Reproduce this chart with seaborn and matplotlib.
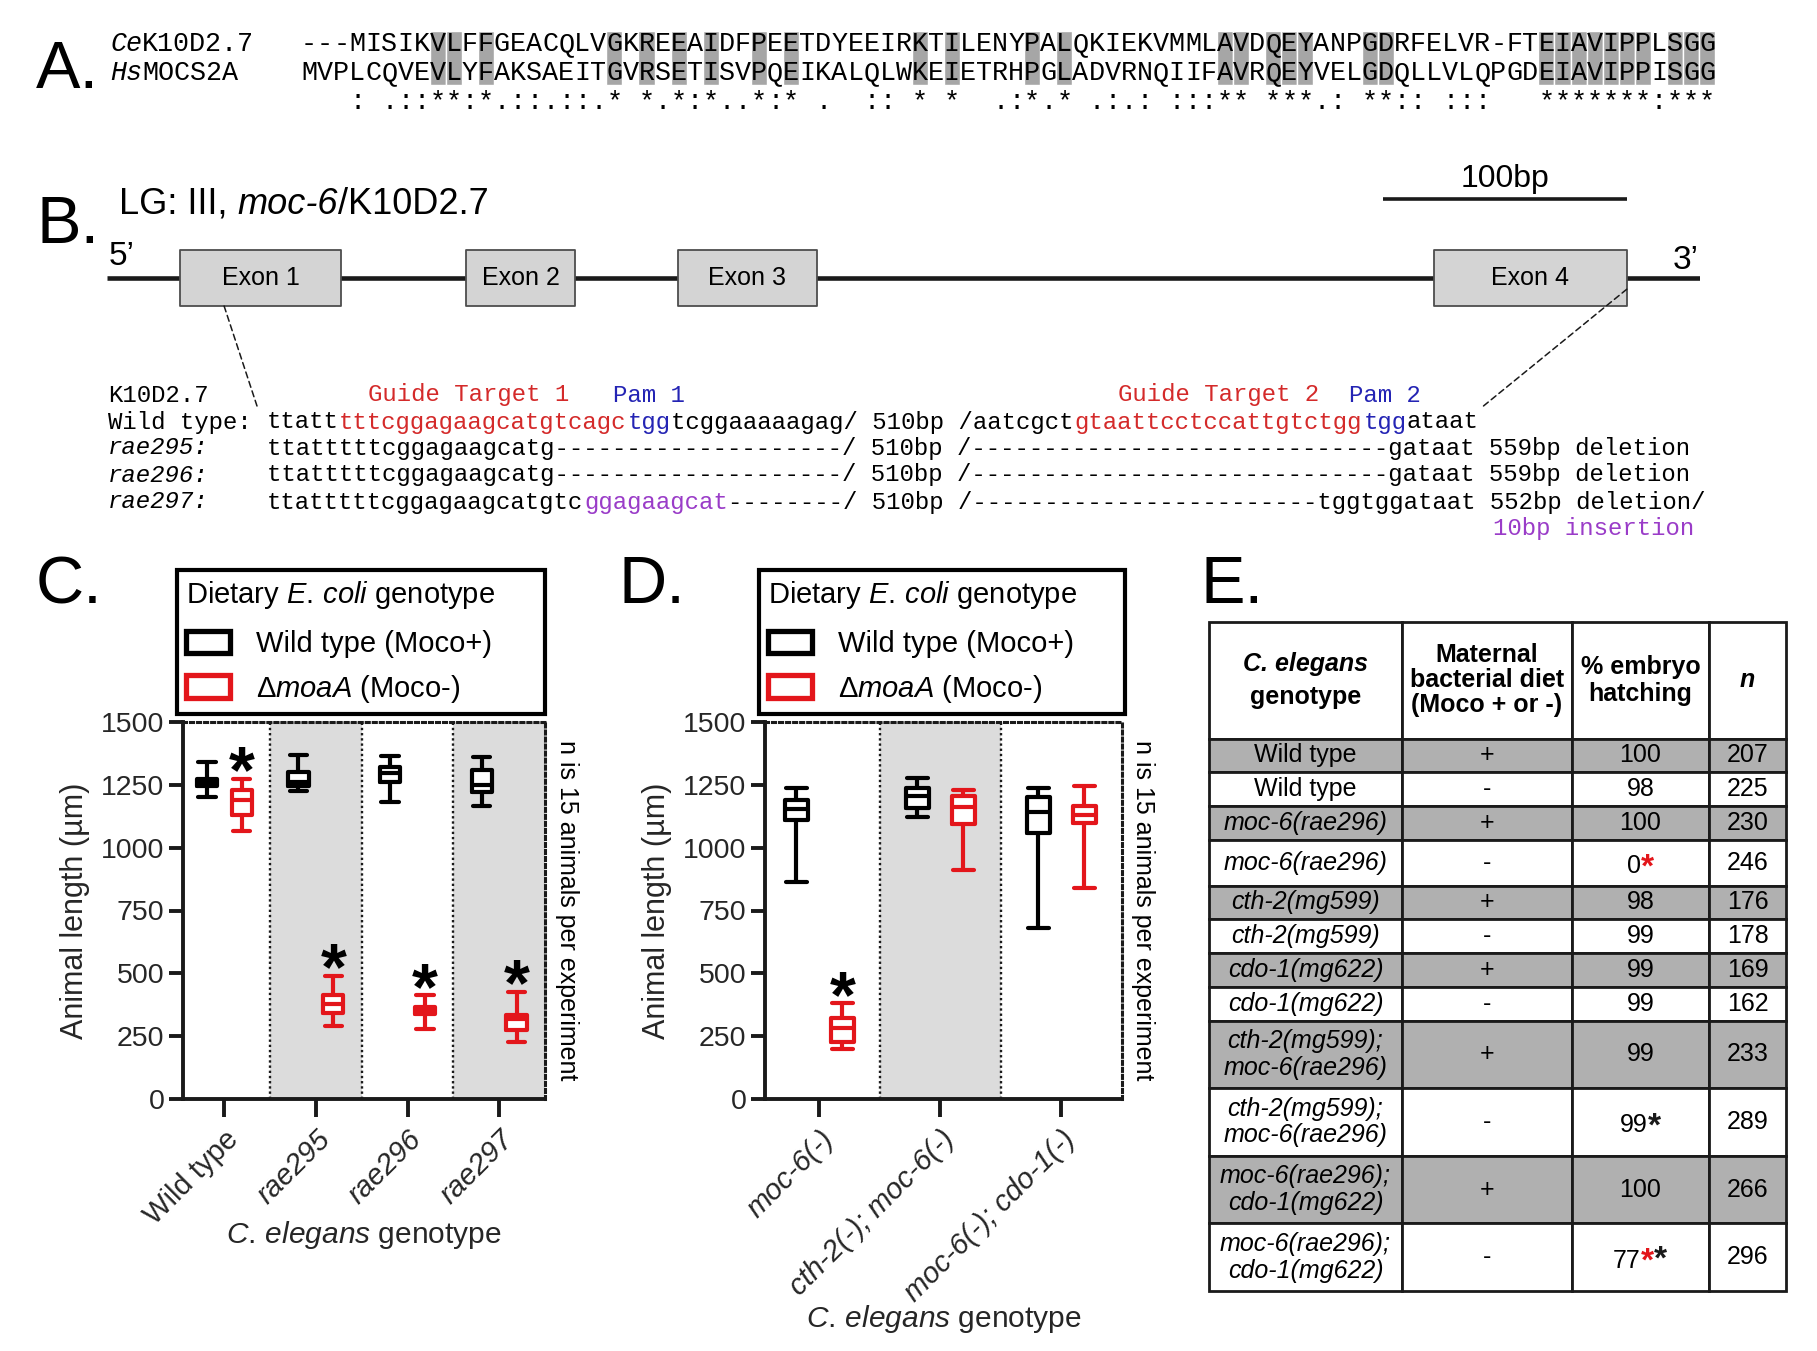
import numpy as np
import pandas as pd
import matplotlib
matplotlib.use("Agg")
import matplotlib.pyplot as plt
import seaborn as sns
from matplotlib.patches import Patch, Rectangle, ConnectionPatch

# ---------------- panel A: MOCS2A alignment ----------------
ce_name = ("Ce", "K10D2.7")
hs_name = ("Hs", "MOCS2A")
ce_seq = "---MISIKVLFFGEACQLVGKREEAIDFPEETDYEEIRKTILENYPALQKIEKVMMLAVDQEYANPGDRFELVR-FTEIAVIPPLSGG"
hs_seq = "MVPLCQVEVLYFAKSAEITGVRSETISVPQEIKALQLWKEIETRHPGLADVRNQIIFAVRQEYVELGDQLLVLQPGDEIAVIPPISGG"
consensus = "   : .::**:*.::.::.* *.*:*..*:* .  :: * *  .:*.* .:.: :::** ***.: **:: :::   *******:***"

# ---------------- panel B: gene model (bp) and alleles ----------------
gene_span = (0, 653)
exon_bounds = [(30, 96), (147, 192), (234, 291), (544, 623)]
exon_names = ["Exon 1", "Exon 2", "Exon 3", "Exon 4"]
scale_bar = (523, 623)

guide_header = [(0, "Guide Target 1", "r"), (17, "Pam 1", "b"),
                (52, "Guide Target 2", "r"), (68, "Pam 2", "b")]
allele_names = ["Wild type:", "rae295:", "rae296:", "rae297:"]
allele_seqs = [
    [("ttatt", "k"), ("tttcggagaagcatgtcagc", "r"), ("tgg", "b"),
     ("tcggaaaaagag/ 510bp /aatcgct", "k"), ("gtaattcctccattgtctgg", "r"),
     ("tgg", "b"), ("ataat", "k")],
    [("ttatttttcggagaagcatg" + "-" * 20 + "/ 510bp /" + "-" * 29 + "gataat 559bp deletion", "k")],
    [("ttatttttcggagaagcatg" + "-" * 20 + "/ 510bp /" + "-" * 29 + "gataat 559bp deletion", "k")],
    [("ttatttttcggagaagcatgtc", "k"), ("ggagaagcat", "p"),
     ("-" * 8 + "/ 510bp /" + "-" * 24 + "tggtggataat 552bp deletion/", "k")],
]
insertion_note = "10bp insertion"

# ---------------- panels C, D: animal length, five-number summaries ----------------
# each box: (min, Q1, median, Q3, max) in um
diets = ["Wild type (Moco+)", "ΔmoaA (Moco-)"]
c_genotypes = ["Wild type", "rae295", "rae296", "rae297"]
c_moco_plus = [[1200, 1245, 1260, 1275, 1340],
               [1225, 1245, 1262, 1300, 1370],
               [1182, 1260, 1296, 1320, 1363],
               [1167, 1222, 1250, 1310, 1360]]
c_moco_minus = [[1065, 1130, 1190, 1230, 1275],
                [292, 342, 377, 413, 491],
                [278, 338, 352, 366, 413],
                [228, 275, 318, 335, 427]]
c_signif = [True, True, True, True]

d_genotypes = ["moc-6(-)", "cth-2(-); moc-6(-)", "moc-6(-); cdo-1(-)"]
d_moco_plus = [[864, 1110, 1155, 1190, 1236],
               [1124, 1157, 1207, 1236, 1279],
               [680, 1060, 1143, 1200, 1239]]
d_moco_minus = [[200, 228, 282, 322, 380],
                [910, 1093, 1160, 1205, 1229],
                [840, 1100, 1131, 1165, 1247]]
d_signif = [True, False, False]

# ---------------- panel E: hatching table ----------------
e_genotype = ["Wild type", "Wild type", "moc-6(rae296)", "moc-6(rae296)",
              "cth-2(mg599)", "cth-2(mg599)", "cdo-1(mg622)", "cdo-1(mg622)",
              "cth-2(mg599);\nmoc-6(rae296)", "cth-2(mg599);\nmoc-6(rae296)",
              "moc-6(rae296);\ncdo-1(mg622)", "moc-6(rae296);\ncdo-1(mg622)"]
e_diet = ["+", "-", "+", "-", "+", "-", "+", "-", "+", "-", "+", "-"]
e_hatch = [100, 98, 100, 0, 98, 99, 99, 99, 99, 99, 100, 77]
e_n = [207, 225, 230, 246, 176, 178, 169, 162, 233, 289, 266, 296]
e_marks = ["", "", "", "r", "", "", "", "", "", "k", "", "rk"]

W, H = 1817, 1351
BLACK = "#000000"
RED = "#e3161b"
TXT = {"k": "#000000", "r": "#d42a2a", "b": "#2424b4", "p": "#9a3cc8"}
MONO = "Liberation Mono"

sns.set_theme(style="ticks")
plt.rcParams["font.family"] = ["Liberation Sans", "DejaVu Sans"]
plt.rcParams["mathtext.fontset"] = "custom"
plt.rcParams["mathtext.rm"] = "Liberation Sans"
plt.rcParams["mathtext.it"] = "Liberation Sans:italic"
plt.rcParams["mathtext.bf"] = "Liberation Sans:bold"
plt.rcParams["text.color"] = "black"

fig = plt.figure(figsize=(W / 100, H / 100), dpi=100)


def px_axes(x0, y0, x1, y1):
    return fig.add_axes([x0 / W, 1 - y1 / H, (x1 - x0) / W, (y1 - y0) / H])


def rich(ax, x, y, parts, size, **kw):
    t = ax.text(x, y, parts[0][0], fontsize=size, va="center", ha="left", **kw, **parts[0][1])
    for s, st in parts[1:]:
        t = ax.annotate(s, xy=(1, 0), xycoords=t, ha="left", va="bottom",
                        fontsize=size, **kw, **st)
    return t


canvas = px_axes(0, 0, W, H)
canvas.set_xlim(0, W)
canvas.set_ylim(H, 0)
canvas.axis("off")

for lab, x, y in [("A.", 36, 88), ("B.", 36, 243), ("C.", 36, 603), ("D.", 619, 603), ("E.", 1201, 603)]:
    canvas.text(x, y, lab, fontsize=48, va="baseline", ha="left")

# ---- A ----
cwA = 16.07
axA = px_axes(301, 29.5, 301 + len(ce_seq) * cwA, 116.5)
axA.set_xlim(-0.5, len(ce_seq) - 0.5)
axA.set_ylim(2.5, -0.5)
axA.axis("off")
ident = [i for i in range(len(ce_seq)) if ce_seq[i] == hs_seq[i] and ce_seq[i] != "-"]
axA.bar(ident, 1.86, bottom=-0.45, width=1.0, color="#a6a6a6", zorder=0)
for row, s in enumerate([ce_seq, hs_seq, consensus.ljust(len(ce_seq))]):
    for i, ch in enumerate(s):
        if ch != " ":
            axA.text(i, row, ch, ha="center", va="center", family=MONO, fontsize=19.3)
for (sp, gn), y in [(ce_name, 44), (hs_name, 73)]:
    canvas.text(110, y, sp, family=MONO, fontsize=19.3, style="italic", va="center")
    canvas.text(110 + len(sp) * cwA, y, gn, family=MONO, fontsize=19.3, va="center")

# ---- B ----
rich(canvas, 119, 204, [("LG: III, ", {}), ("moc-6", {"style": "italic"}), ("/K10D2.7", {})], 26)
axB = px_axes(107, 140, 1700, 320)
axB.set_xlim(*gene_span)
axB.set_ylim(0.75, -2.464)
axB.axis("off")
axB.plot(gene_span, [0, 0], color="k", lw=3.3, zorder=1, solid_capstyle="butt")
axB.broken_barh([(s, e - s) for s, e in exon_bounds], (-0.5, 1.0), facecolors="#d4d4d4",
                edgecolors="#4d4d4d", linewidth=1.3, zorder=2)
for (s, e), name in zip(exon_bounds, exon_names):
    axB.text((s + e) / 2, 0, name, ha="center", va="center", fontsize=18, zorder=3)
axB.plot(scale_bar, [-1.41, -1.41], color="k", lw=2.6, solid_capstyle="butt")
axB.text(np.mean(scale_bar), -1.76, f"{scale_bar[1] - scale_bar[0]}bp", ha="center", va="center", fontsize=23)
axB.text(gene_span[0] + 6, -0.38, "5’", ha="center", va="center", fontsize=24)
axB.text(gene_span[1] - 6, -0.32, "3’", ha="center", va="center", fontsize=24)

cwB = 14.43
x_lab = 108


def seq_x(col):
    return x_lab + (11 + col) * cwB


canvas.text(x_lab, 395, "K10D2.7", family=MONO, fontsize=17.3, va="center")
for col, txt, c in guide_header:
    canvas.text(seq_x(col + 7), 395, txt, family=MONO, fontsize=17.3, va="center", color=TXT[c])
row_y = [422, 448, 475, 502]
for name, segs, y in zip(allele_names, allele_seqs, row_y):
    canvas.text(x_lab, y, name, family=MONO, fontsize=17.3, va="center",
                style="italic" if name.startswith("rae") else "normal")
    col = 0
    for txt, c in segs:
        canvas.text(seq_x(col), y, txt, family=MONO, fontsize=17.3, va="center", color=TXT[c])
        col += len(txt)
canvas.text(seq_x(85), 528, insertion_note, family=MONO, fontsize=17.3, va="center", color=TXT["p"])

for xyA, xyB in [((48, 0.5), (257, 406)), ((exon_bounds[-1][1], 0.2), (1481, 408))]:
    fig.add_artist(ConnectionPatch(xyA=xyA, coordsA=axB.transData, xyB=xyB, coordsB=canvas.transData,
                                   ls=(0, (4, 2.5)), lw=1.1, color="k"))


# ---- C, D ----
def five_num_frame(genotypes, plus, minus):
    rows = []
    for g, p, m in zip(genotypes, plus, minus):
        rows += [(g, diets[0], v) for v in p]
        rows += [(g, diets[1], v) for v in m]
    return pd.DataFrame(rows, columns=["genotype", "diet", "length"])


def length_panel(box, genotypes, plus, minus, signif, shaded, legend_box, gap, capw, xpad):
    ax = px_axes(*box)
    df = five_num_frame(genotypes, plus, minus)
    kws = dict(data=df, x="genotype", y="length", hue="diet", order=genotypes, hue_order=diets,
               whis=(0, 100), width=0.76, gap=gap, dodge=True, legend=False, ax=ax, saturation=1)
    sns.boxplot(palette=["white", "white"], fill=True, linewidth=0, showcaps=False, **kws)
    sns.boxplot(palette=[BLACK, RED], fill=False, linewidth=3.0, capwidths=capw, **kws)
    n = len(genotypes)
    for k in shaded:
        ax.axvspan(k - 0.5, k + 0.5, color="#dcdcdc", zorder=0, lw=0)
    for k in range(n - 1):
        ax.axvline(k + 0.5, color="k", ls=(0, (1, 1.2)), lw=1.7, zorder=1)
    for k, sig in enumerate(signif):
        if sig:
            ax.text(k + 0.19, minus[k][4] - 55, "*", ha="center", va="baseline",
                    fontsize=48, fontweight="bold")
    ax.set_xlim(-0.45, n - 0.5)
    ax.set_ylim(0, 1500)
    ax.set_yticks(np.arange(0, 1501, 250))
    ax.set_xticks(range(n))
    ax.set_xticklabels(genotypes, rotation=45, ha="right", rotation_mode="anchor", fontsize=21)
    for t in ax.get_xticklabels():
        t.set_fontstyle("normal" if t.get_text() == "Wild type" else "italic")
    ax.tick_params(axis="both", width=2.8, length=10, color="k")
    ax.tick_params(axis="y", labelsize=20.5)
    ax.tick_params(axis="x", length=13, pad=6)
    for side in ["left", "bottom"]:
        ax.spines[side].set_linewidth(2.8)
        ax.spines[side].set_color("k")
    for side in ["top", "right"]:
        ax.spines[side].set_visible(True)
        ax.spines[side].set_linestyle((0, (1, 1.3)))
        ax.spines[side].set_linewidth(2.2)
        ax.spines[side].set_color("k")
    ax.set_facecolor("white")
    ax.set_ylabel("Animal length (µm)", fontsize=22, labelpad=8)
    ax.set_xlabel(r"$\mathit{C.\,elegans}$ genotype", fontsize=21.5, labelpad=xpad)
    ax.text(1.06, 0.5, "n is 15 animals per experiment", transform=ax.transAxes, rotation=-90,
            ha="center", va="center", fontsize=18)
    handles = [Patch(facecolor="white", edgecolor=c, linewidth=3.8) for c in (BLACK, RED)]
    x0, y0, x1, y1 = legend_box
    leg = fig.legend(handles, ["Wild type (Moco+)", r"$\mathit{\Delta moaA}$ (Moco-)"],
                     title=r"Dietary $\mathit{E.\,coli}$ genotype", loc="upper left",
                     bbox_to_anchor=(x0 / W, 1 - y1 / H, (x1 - x0) / W, (y1 - y0) / H),
                     mode="expand", bbox_transform=fig.transFigure, fancybox=False, framealpha=1,
                     edgecolor="black", fontsize=21, title_fontsize=21, handlelength=1.5,
                     handleheight=0.8, handletextpad=0.9, borderpad=0.3, labelspacing=0.5,
                     borderaxespad=0, alignment="left")
    leg.get_frame().set_linewidth(3.0)
    leg._legend_box.sep = 14
    return ax


length_panel((183, 722, 545, 1099), c_genotypes, c_moco_plus, c_moco_minus, c_signif,
             [1, 3], (177, 570, 545, 708), 0.42, 0.19, -8)
length_panel((765, 722, 1122, 1099), d_genotypes, d_moco_plus, d_moco_minus, d_signif,
             [1], (759, 570, 1125, 708), 0.5, 0.17, -3)

# ---- E ----
col_w = [193, 170, 137, 77]
header_h = 3.45
heights = [2.0 if "\n" in g else (1.35 if m else 1.0) for g, m in zip(e_genotype, e_marks)]
total = header_h + sum(heights)
axE = px_axes(1209, 622, 1786, 1291)
axE.set_xlim(0, sum(col_w))
axE.set_ylim(total, 0)
axE.axis("off")
x_edges = np.concatenate([[0], np.cumsum(col_w)])
x_cent = (x_edges[:-1] + x_edges[1:]) / 2

for j in range(4):
    axE.add_patch(Rectangle((x_edges[j], 0), col_w[j], header_h, facecolor="white",
                            edgecolor="k", lw=2, clip_on=False))
hc = header_h / 2
axE.text(x_cent[0], hc - 0.47, "C. elegans", ha="center", va="center", fontsize=18,
         fontweight="bold", style="italic")
axE.text(x_cent[0], hc + 0.5, "genotype", ha="center", va="center", fontsize=18, fontweight="bold")
axE.text(x_cent[1], hc, "Maternal\nbacterial diet\n(Moco + or -)", ha="center", va="center",
         fontsize=18, fontweight="bold", linespacing=1.05)
axE.text(x_cent[2], hc, "% embryo\nhatching", ha="center", va="center", fontsize=18,
         fontweight="bold", linespacing=1.15)
axE.text(x_cent[3], hc, "n", ha="center", va="center", fontsize=18, fontweight="bold", style="italic")

y0 = header_h
for g, d, p, n, m, h in zip(e_genotype, e_diet, e_hatch, e_n, e_marks, heights):
    fc = "#b0b0b0" if d == "+" else "white"
    for j in range(4):
        axE.add_patch(Rectangle((x_edges[j], y0), col_w[j], h, facecolor=fc, edgecolor="k",
                                lw=2, clip_on=False))
    yc = y0 + h / 2
    axE.text(x_cent[0], yc, g, ha="center", va="center", fontsize=18, linespacing=1.15,
             style="normal" if g == "Wild type" else "italic")
    axE.text(x_cent[1], yc, d, ha="center", va="center", fontsize=18)
    t = axE.text(x_cent[2] - 7 * len(m), yc + (0.1 if m else 0), str(p), ha="center", va="center",
                 fontsize=18)
    for c in m:
        t = axE.annotate("*", xy=(1, 1.08), xycoords=t, ha="left", va="top", fontsize=24,
                         fontweight="bold", color=RED if c == "r" else "k")
    axE.text(x_cent[3], yc, str(n), ha="center", va="center", fontsize=18)
    y0 += h

fig.savefig("out.png", dpi=100)
